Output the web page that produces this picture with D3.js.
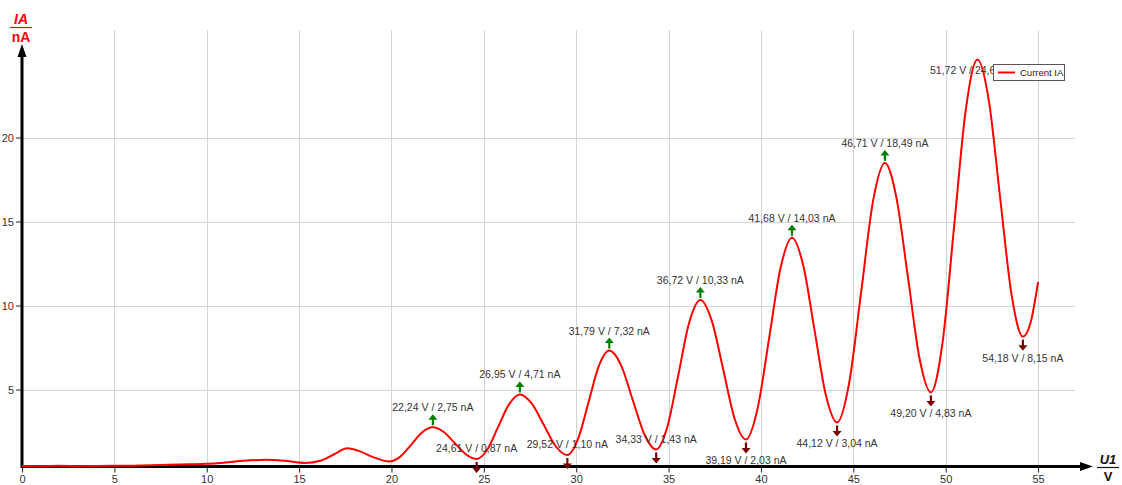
<!DOCTYPE html>
<html>
<head>
<meta charset="utf-8">
<script src="https://cdn.jsdelivr.net/npm/d3@7"></script>
<style>
  html, body { margin: 0; padding: 0; background: #fff; }
  svg { display: block; font-family: "Liberation Sans", Arial, sans-serif; }
</style>
</head>
<body>
<svg id="chart" width="1122" height="485"></svg>
<script>
// Franck-Hertz style anode current IA versus accelerating voltage U1
const voltage = [
  0, 1, 2, 3, 4, 5, 6, 7, 8, 9, 10, 11, 12, 13.2, 14.2, 15.3, 16.2, 16.9, 17.6, 18.3, 19.0, 19.9,
  20.48, 21.07, 21.65, 22.24, 22.83, 23.43, 24.02, 24.61, 25.2, 25.78, 26.37, 26.95,
  27.59, 28.24, 28.88, 29.52, 30.09, 30.66, 31.22, 31.79, 32.43, 33.06, 33.7, 34.33,
  34.93, 35.53, 36.12, 36.72, 37.34, 37.96, 38.57, 39.19, 39.81, 40.44, 41.06, 41.68,
  42.29, 42.9, 43.51, 44.12, 44.77, 45.42, 46.06, 46.71, 47.33, 47.96, 48.58, 49.2,
  49.83, 50.46, 51.09, 51.72, 52.34, 52.95, 53.57, 54.18, 54.6, 55.0
];
const current = [
  0.45, 0.44, 0.46, 0.44, 0.45, 0.46, 0.47, 0.49, 0.52, 0.55, 0.58, 0.66, 0.76, 0.82, 0.76, 0.63, 0.78, 1.15, 1.50, 1.32, 0.98, 0.72,
  1.01, 1.72, 2.44, 2.75, 2.47, 1.81, 1.15, 0.87, 1.45, 2.79, 4.13, 4.71,
  4.17, 2.91, 1.64, 1.10, 2.03, 4.21, 6.39, 7.32, 6.44, 4.38, 2.31, 1.43,
  2.77, 5.88, 9.00, 10.33, 9.09, 6.18, 3.28, 2.03, 3.83, 8.03, 12.23, 14.03,
  12.38, 8.54, 4.69, 3.04, 5.36, 10.77, 16.17, 18.49, 16.44, 11.66, 6.88, 4.83,
  7.80, 14.74, 21.67, 24.64, 22.17, 16.40, 10.62, 8.15, 9.0, 11.4
];

// Marked maxima and minima of the curve
const maxV = [22.24, 26.95, 31.79, 36.72, 41.68, 46.71, 51.72];
const maxI = [2.75, 4.71, 7.32, 10.33, 14.03, 18.49, 24.64];
const minV = [24.61, 29.52, 34.33, 39.19, 44.12, 49.20, 54.18];
const minI = [0.87, 1.10, 1.43, 2.03, 3.04, 4.83, 8.15];

const xTicks = [0, 5, 10, 15, 20, 25, 30, 35, 40, 45, 50, 55];
const yTicks = [5, 10, 15, 20];
const seriesName = "Current IA";

const svg = d3.select("#chart");
const plotLeft = 22, plotRight = 1075, plotTop = 30, plotBottom = 466.5;

const x = d3.scaleLinear().domain([0, 57]).range([plotLeft, plotRight]);
const y = d3.scaleLinear().domain([0.42, 26.4]).range([plotBottom, plotTop]);

const locale = d3.formatLocale({ decimal: ",", thousands: ".", grouping: [3], currency: ["", ""] });
const f2 = locale.format(".2f");

// grid
const grid = svg.append("g").attr("stroke", "#d4d4d4").attr("stroke-width", 1);
grid.selectAll("line.v").data(xTicks.filter(d => d > 0)).join("line").attr("class", "v")
  .attr("x1", d => Math.round(x(d)) + 0.5).attr("x2", d => Math.round(x(d)) + 0.5)
  .attr("y1", plotTop).attr("y2", plotBottom);
grid.selectAll("line.h").data(yTicks).join("line").attr("class", "h")
  .attr("x1", plotLeft).attr("x2", plotRight)
  .attr("y1", d => Math.round(y(d)) + 0.5).attr("y2", d => Math.round(y(d)) + 0.5);

// axes ticks and labels
const xAxis = svg.append("g").attr("transform", `translate(0,${plotBottom})`)
  .call(d3.axisBottom(x).tickValues(xTicks).tickSize(6).tickSizeOuter(0).tickPadding(3));
xAxis.select(".domain").remove();
xAxis.selectAll(".tick line").attr("stroke", "#222").attr("stroke-width", 1);
xAxis.selectAll(".tick text").attr("fill", "#333").style("font-size", "11px")
  .style("font-family", "'Liberation Sans', Arial, sans-serif");

const yAxis = svg.append("g").attr("transform", `translate(${plotLeft},0)`)
  .call(d3.axisLeft(y).tickValues(yTicks).tickSize(6).tickSizeOuter(0).tickPadding(2));
yAxis.select(".domain").remove();
yAxis.selectAll(".tick line").attr("stroke", "#222").attr("stroke-width", 1);
yAxis.selectAll(".tick text").attr("fill", "#333").style("font-size", "11px")
  .style("font-family", "'Liberation Sans', Arial, sans-serif");

// axis lines with arrow heads
const ax = svg.append("g");
ax.append("line").attr("x1", plotLeft).attr("x2", 1084).attr("y1", plotBottom).attr("y2", plotBottom)
  .attr("stroke", "#000").attr("stroke-width", 3);
ax.append("path").attr("d", `M1093,${plotBottom} L1080,${plotBottom - 4.5} L1080,${plotBottom + 4.5} Z`).attr("fill", "#000");
ax.append("line").attr("x1", plotLeft).attr("x2", plotLeft).attr("y1", plotBottom + 1.5).attr("y2", 54)
  .attr("stroke", "#000").attr("stroke-width", 3);
ax.append("path").attr("d", `M${plotLeft},44 L${plotLeft - 4.5},57 L${plotLeft + 4.5},57 Z`).attr("fill", "#000");

// curve, drawn over the axis line
const pts = voltage.map((v, i) => [v, current[i]]);
const line = d3.line().x(d => x(d[0])).y(d => y(d[1])).curve(d3.curveMonotoneX);
svg.append("path").datum(pts).attr("d", line)
  .attr("fill", "none").attr("stroke", "#ff0000").attr("stroke-width", 2)
  .attr("stroke-linejoin", "round");

// axis titles
const yt = svg.append("g").attr("font-weight", "bold").attr("font-size", "14px").attr("text-anchor", "middle");
yt.append("text").attr("x", 21).attr("y", 24).attr("fill", "#ff0000").attr("font-style", "italic").text("IA");
yt.append("line").attr("x1", 10).attr("x2", 32).attr("y1", 27.5).attr("y2", 27.5).attr("stroke", "#ff0000").attr("stroke-width", 1.2);
yt.append("text").attr("x", 21).attr("y", 42).attr("fill", "#ff0000").text("nA");

const xt = svg.append("g").attr("font-weight", "bold").attr("font-size", "13px").attr("text-anchor", "middle");
xt.append("text").attr("x", 1108).attr("y", 464).attr("fill", "#111").attr("font-style", "italic").text("U1");
xt.append("line").attr("x1", 1097).attr("x2", 1119).attr("y1", 467.5).attr("y2", 467.5).attr("stroke", "#111").attr("stroke-width", 1.2);
xt.append("text").attr("x", 1108).attr("y", 481).attr("fill", "#111").text("V");

// annotations
const ann = svg.append("g").attr("font-size", "10.5px").attr("fill", "#333").attr("text-anchor", "middle");
function upArrow(g, cx, tipY, color) {
  g.append("line").attr("x1", cx).attr("x2", cx).attr("y1", tipY + 4).attr("y2", tipY + 11)
    .attr("stroke", color).attr("stroke-width", 2.2);
  g.append("path").attr("d", `M${cx},${tipY} L${cx - 4.5},${tipY + 5.5} L${cx + 4.5},${tipY + 5.5} Z`).attr("fill", color);
}
function downArrow(g, cx, tipY, color) {
  g.append("line").attr("x1", cx).attr("x2", cx).attr("y1", tipY - 11).attr("y2", tipY - 4)
    .attr("stroke", color).attr("stroke-width", 2.2);
  g.append("path").attr("d", `M${cx},${tipY} L${cx - 4.5},${tipY - 5.5} L${cx + 4.5},${tipY - 5.5} Z`).attr("fill", color);
}

maxV.forEach((v, i) => {
  const px = x(v), py = y(maxI[i]);
  const label = `${f2(v)} V / ${f2(maxI[i])} nA`;
  if (py - 40 < plotTop) {
    ann.append("text").attr("x", px - 4).attr("y", py + 14).text(label);
  } else {
    upArrow(ann, px, py - 13, "#008000");
    ann.append("text").attr("x", px).attr("y", py - 16).text(label);
  }
});

minV.forEach((v, i) => {
  const px = x(v), py = y(minI[i]);
  const label = `${f2(v)} V / ${f2(minI[i])} nA`;
  downArrow(ann, px, py + 14, "#7a0000");
  if (py + 26 > plotBottom) {
    ann.append("text").attr("x", px).attr("y", py - 7).text(label);
  } else {
    ann.append("text").attr("x", px).attr("y", py + 25).text(label);
  }
});

// legend
const lg = svg.append("g").attr("transform", "translate(993,64)");
lg.append("rect").attr("x", 0.5).attr("y", 0.5).attr("width", 71).attr("height", 16)
  .attr("fill", "#fff").attr("stroke", "#555").attr("stroke-width", 1);
lg.append("line").attr("x1", 5).attr("x2", 22).attr("y1", 8.5).attr("y2", 8.5)
  .attr("stroke", "#ff0000").attr("stroke-width", 2);
lg.append("text").attr("x", 27).attr("y", 12).attr("font-size", "9.5px").attr("fill", "#222").text(seriesName);
</script>
</body>
</html>
